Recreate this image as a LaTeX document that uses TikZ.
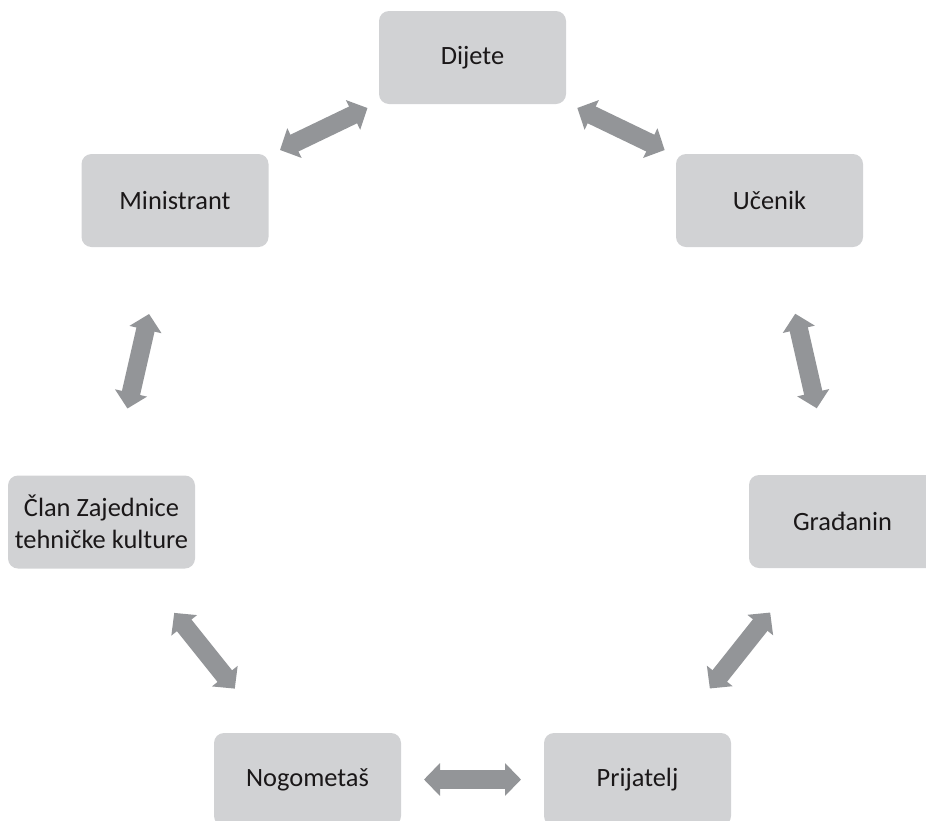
\documentclass[tikz,border=0pt]{standalone}
\usepackage{fontspec}
\setmainfont{Carlito}
\usetikzlibrary{arrows.meta,calc}
\definecolor{boxgray}{HTML}{D1D2D4}
\definecolor{arrowgray}{HTML}{939598}
\definecolor{textgray}{HTML}{1A1718}

\begin{document}
\begin{tikzpicture}[x=0.5pt, y=-0.5pt,
    role/.style={fill=boxgray, rounded corners=5pt, minimum width=93.5pt, minimum height=46.5pt,
        inner sep=0pt, align=center, text=textgray, font=\fontsize{13.2}{16}\selectfont},
    link/.style={arrowgray, line width=9.3pt, {Triangle[width=16pt,length=8pt]}-{Triangle[width=16pt,length=8pt]}}]
            \useasboundingbox (0,0) rectangle (926,820);
            \node[role] (dij) at (472.5,57.5) {Dijete};
            \node[role] (min) at (175,200.5) {Ministrant};
            \node[role] (uce) at (769.5,200.5) {Učenik};
            \node[role] (cla) at (101.5,522) {Član Zajednice\\tehničke kulture};
            \node[role] (gra) at (842.5,521.5) {Građanin};
            \node[role] (nog) at (307.5,779.5) {Nogometaš};
            \node[role] (pri) at (637.5,779.5) {Prijatelj};
            \draw[link] ($(dij)!.5!(min)!24.25pt!(dij)$) -- ($(dij)!.5!(min)!24.25pt!(min)$);
            \draw[link] ($(dij)!.5!(uce)!24.25pt!(dij)$) -- ($(dij)!.5!(uce)!24.25pt!(uce)$);
            \draw[link] ($(min)!.5!(cla)!24.25pt!(min)$) -- ($(min)!.5!(cla)!24.25pt!(cla)$);
            \draw[link] ($(uce)!.5!(gra)!24.25pt!(uce)$) -- ($(uce)!.5!(gra)!24.25pt!(gra)$);
            \draw[link] ($(cla)!.5!(nog)!24.25pt!(cla)$) -- ($(cla)!.5!(nog)!24.25pt!(nog)$);
            \draw[link] ($(gra)!.5!(pri)!24.25pt!(gra)$) -- ($(gra)!.5!(pri)!24.25pt!(pri)$);
            \draw[link] ($(nog)!.5!(pri)!24.25pt!(nog)$) -- ($(nog)!.5!(pri)!24.25pt!(pri)$);
        \end{tikzpicture}
\end{document}
